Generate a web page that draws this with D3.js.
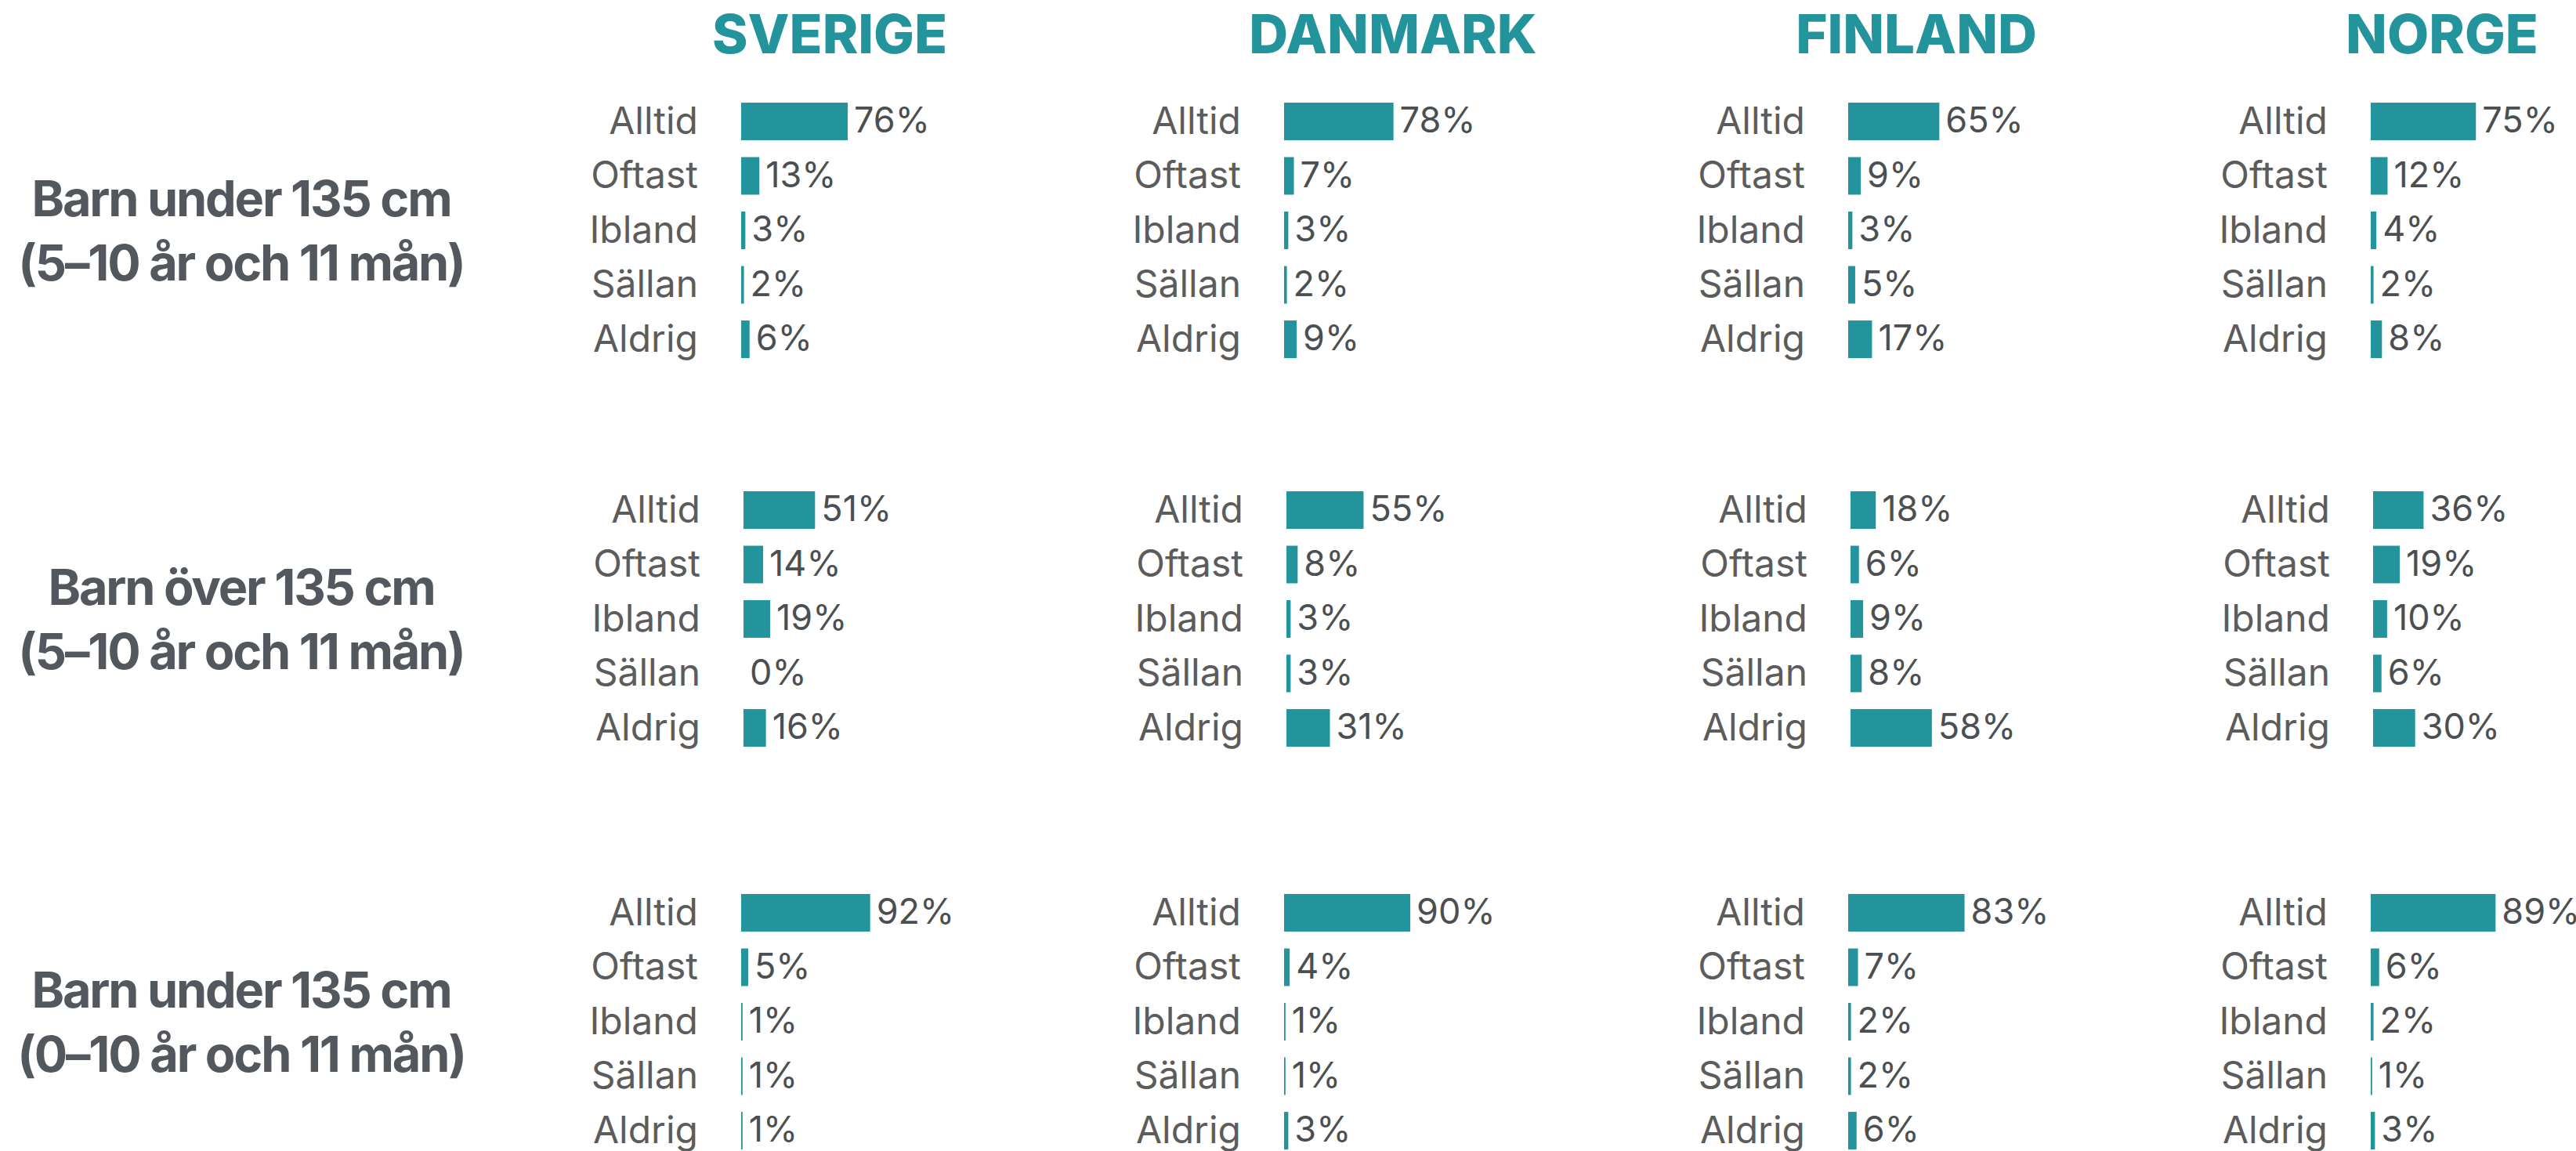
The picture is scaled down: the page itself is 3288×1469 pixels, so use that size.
<!DOCTYPE html>
<html>
<head>
<meta charset="utf-8" />
<title>Bältesanvändning barn</title>
<script src="https://cdn.jsdelivr.net/npm/d3@7"></script>
<style>
  html, body { margin: 0; padding: 0; background: #fff; }
  svg { display: block; font-family: Inter, "Open Sans", sans-serif; }
  .title { fill: #23949b; font-weight: 800; font-size: 69px; text-anchor: middle; }
  .group-label { fill: #53575e; font-weight: 700; font-size: 63px; text-anchor: middle; letter-spacing: -2.2px; }
  .answer { fill: #5c5c5c; font-size: 48px; text-anchor: end; }
  .value { fill: #4b4f52; font-size: 45px; }
  .bar { fill: #23949b; }
</style>
</head>
<body>
<svg id="chart" width="3288" height="1469"></svg>
<script>
// categories
const countries = ["SVERIGE", "DANMARK", "FINLAND", "NORGE"];
const answers = ["Alltid", "Oftast", "Ibland", "Sällan", "Aldrig"];
const groupLines = [
  ["Barn under 135 cm", "(5–10 år och 11 mån)"],
  ["Barn över 135 cm", "(5–10 år och 11 mån)"],
  ["Barn under 135 cm", "(0–10 år och 11 mån)"]
];

// values (%), one array per group, one row per country (answers order)
const under135_5to10 = [
  [76, 13, 3, 2, 6],
  [78, 7, 3, 2, 9],
  [65, 9, 3, 5, 17],
  [75, 12, 4, 2, 8]
];
const over135_5to10 = [
  [51, 14, 19, 0, 16],
  [55, 8, 3, 3, 31],
  [18, 6, 9, 8, 58],
  [36, 19, 10, 6, 30]
];
const under135_0to10 = [
  [92, 5, 1, 1, 1],
  [90, 4, 1, 1, 3],
  [83, 7, 2, 2, 6],
  [89, 6, 2, 1, 3]
];
const groupValues = [under135_5to10, over135_5to10, under135_0to10];

// layout
const colX = [946, 1639, 2359, 3026];     // bar start per country
const titleX = [1059, 1778, 2446, 3117];  // title centre per country
const groupTop = [131, 627, 1141];
const groupShift = [0, 3, 0];
const labelCenterX = 308;

const svg = d3.select("#chart");

const x = d3.scaleLinear().domain([0, 100]).range([0, 179]);
const y = d3.scaleBand().domain(answers).range([0, 326]).paddingInner(0.31).paddingOuter(0);

// country titles
svg.selectAll(".title")
  .data(countries)
  .enter().append("text")
  .attr("class", "title")
  .attr("x", (d, i) => titleX[i])
  .attr("y", 68)
  .text(d => d);

groupValues.forEach((grp, g) => {
  const top = groupTop[g];
  const mid = top + 326 / 2;

  // row label (two lines)
  svg.append("text")
    .attr("class", "group-label")
    .selectAll("tspan")
    .data(groupLines[g])
    .enter().append("tspan")
    .attr("x", labelCenterX)
    .attr("y", (d, i) => mid - 18 + i * 82)
    .text(d => d);

  grp.forEach((vals, c) => {
    const gx = colX[c] + groupShift[g];
    const panel = svg.append("g").attr("transform", `translate(${gx},${top})`);

    panel.selectAll(".answer")
      .data(answers)
      .enter().append("text")
      .attr("class", "answer")
      .attr("x", -55)
      .attr("y", d => y(d) + y.bandwidth() / 2)
      .attr("dy", "0.33em")
      .text(d => d);

    panel.selectAll(".bar")
      .data(vals)
      .enter().append("rect")
      .attr("class", "bar")
      .attr("x", 0)
      .attr("y", (d, i) => y(answers[i]))
      .attr("width", d => x(d))
      .attr("height", y.bandwidth());

    panel.selectAll(".value")
      .data(vals)
      .enter().append("text")
      .attr("class", "value")
      .attr("x", d => x(d) + 8)
      .attr("y", (d, i) => y(answers[i]) + y.bandwidth() / 2)
      .attr("dy", "0.32em")
      .text(d => d + "%");
  });
});
</script>
</body>
</html>
